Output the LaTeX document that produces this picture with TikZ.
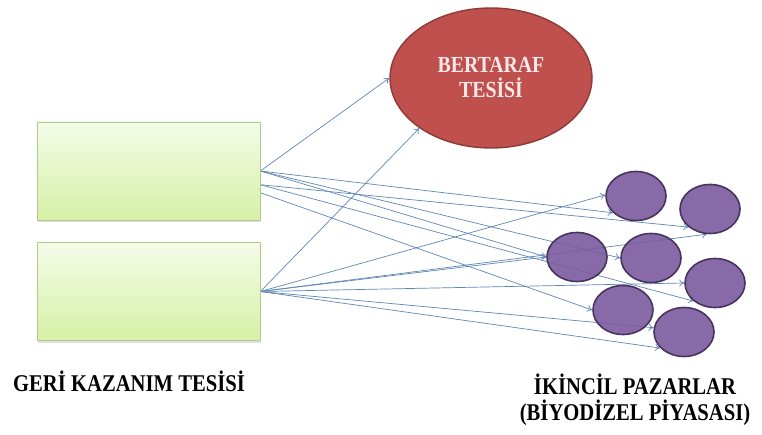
\documentclass[tikz,border=0pt]{standalone}
\usepackage{fontspec}
\setmainfont{Liberation Serif}
\newfontfamily\tallserif[FakeStretch=0.86]{Liberation Serif}
\usetikzlibrary{shapes.geometric,arrows.meta,shadows,backgrounds}

\definecolor{boxtop}{HTML}{F4FBE8}
\definecolor{boxbot}{HTML}{D6F1A6}
\definecolor{boxedge}{HTML}{B2C98C}
\definecolor{mktfill}{HTML}{7A5A9E}
\definecolor{mktedge}{HTML}{46365F}
\definecolor{dispfill}{HTML}{C0504D}
\definecolor{dispedge}{HTML}{8E3A37}
\definecolor{disptext}{HTML}{F6E8E8}
\definecolor{flowblue}{HTML}{5F87B6}

\begin{document}
\begin{tikzpicture}[x=1pt,y=-1pt,
  facility/.style={draw=boxedge, line width=0.8pt, top color=boxtop,
    bottom color=boxbot, minimum width=223pt, minimum height=98pt,
    inner sep=0pt,
    drop shadow={shadow xshift=1pt, shadow yshift=-2pt, opacity=0.25}},
  market/.style={ellipse, draw=mktedge, line width=1.6pt, fill=mktfill,
    fill opacity=0.9, draw opacity=1, minimum width=60pt,
    minimum height=49pt, inner sep=0pt},
  disposal/.style={ellipse, draw=dispedge, line width=1.4pt, fill=dispfill,
    minimum width=202pt, minimum height=140pt, inner sep=0pt,
    text=disptext, align=center,
    font=\tallserif\bfseries\fontsize{23}{25}\selectfont},
  flow/.style={draw=flowblue, line width=0.7pt,
    -{To[length=5pt,width=7pt]}},
  caption/.style={font=\tallserif\bfseries\fontsize{24}{26}\selectfont,
    align=center, inner sep=0pt}
]
  % canvas and connectors sit underneath the shapes
  \useasboundingbox (0,0) rectangle (762,435);

  % recovery facilities
  \node[facility] (box1) at (148.5,171) {};
  \node[facility] (box2) at (148.5,291.5) {};

  % disposal facility
  \node[disposal] (disp) at (491,78) {BERTARAF\\TESİSİ};

  % secondary markets
  \node[market] (m1) at (636,196) {};
  \node[market] (m2) at (710,209) {};
  \node[market] (m3) at (577,257) {};
  \node[market] (m4) at (651,258) {};
  \node[market] (m5) at (715,283) {};
  \node[market] (m6) at (623,310) {};
  \node[market] (m7) at (684,332) {};

  % flows
  \begin{scope}[on background layer]
    \fill[white] (0,0) rectangle (762,435);
    \draw[flow] (box1.east) -- (disp.180);
    \draw[flow] (box2.east) -- (disp.215);
    \draw[flow] (box1.east) -- (m1.216);
    \draw[flow] (box1.east) -- (m3.180);
    \draw[flow] (box1.east) -- (m4.180);
    \draw[flow] (box1.-7) -- (m2.220);
    \draw[flow] (box1.-7) -- (m5.220);
    \draw[flow] (box1.-11) -- (m6.180);
    \draw[flow] (box2.east) -- (m1.178);
    \draw[flow] (box2.east) -- (m2.263);
    \draw[flow] (box2.east) -- (m3.180);
    \draw[flow] (box2.east) -- (m5.180);
    \draw[flow] (box2.east) -- (m7.172);
    \draw[flow] (box2.east) -- (m7.214);
  \end{scope}

  % captions
  \node[caption] (lblrec) at (129,381) {GERİ KAZANIM TESİSİ};
  \node[caption] (lblmkt) at (635,400)
    {İKİNCİL PAZARLAR\\(BİYODİZEL PİYASASI)};
\end{tikzpicture}
\end{document}
